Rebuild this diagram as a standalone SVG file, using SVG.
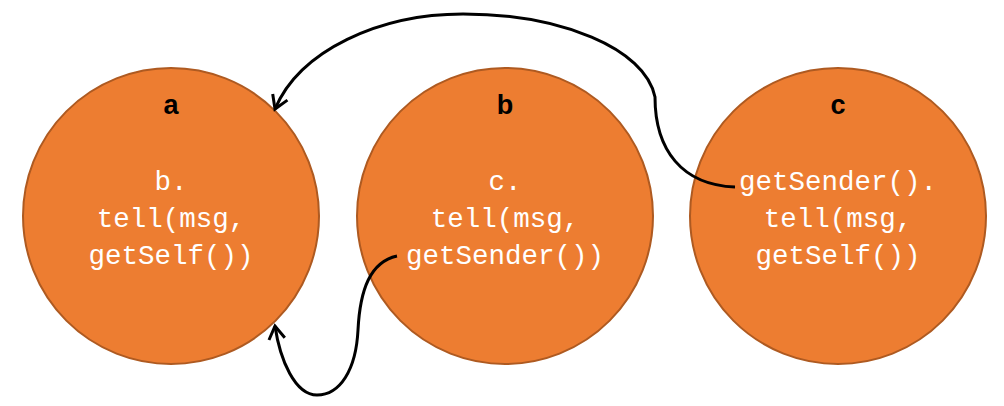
<svg xmlns="http://www.w3.org/2000/svg" width="1004" height="406" viewBox="0 0 1004 406">
<style>
.node circle{fill:#ED7D31;stroke:#AE5A21;stroke-width:2}
.lbl{font-family:"Liberation Sans",Arial,sans-serif;font-weight:bold;font-size:27px;fill:#000;text-anchor:middle}
.code{font-family:"Liberation Mono","DejaVu Sans Mono",monospace;font-size:27.5px;fill:#fff;text-anchor:middle}
.conn path{fill:none;stroke:#000;stroke-width:3}
</style>
<defs>
<marker id="arr" markerUnits="userSpaceOnUse" markerWidth="30" markerHeight="30" refX="0" refY="0" viewBox="-15 -15 30 30" orient="auto">
<path d="M-13,-8 L0,0 L-13,8" fill="none" stroke="#000" stroke-width="3"/>
</marker>
</defs>
<rect width="1004" height="406" fill="#fff"/>
<g id="node-a" class="node">
<circle cx="171" cy="216" r="148"/>
<text class="lbl" x="171" y="114">a</text>
<text class="code" x="171" y="190">b.</text>
<text class="code" x="171" y="227">tell(msg,</text>
<text class="code" x="171" y="264">getSelf())</text>
</g>
<g id="node-b" class="node">
<circle cx="505" cy="216" r="148"/>
<text class="lbl" x="505" y="114">b</text>
<text class="code" x="505" y="190">c.</text>
<text class="code" x="505" y="227">tell(msg,</text>
<text class="code" x="505" y="264">getSender())</text>
</g>
<g id="node-c" class="node">
<circle cx="838" cy="216" r="148"/>
<text class="lbl" x="838" y="114">c</text>
<text class="code" x="838" y="190">getSender().</text>
<text class="code" x="838" y="227">tell(msg,</text>
<text class="code" x="838" y="264">getSelf())</text>
</g>
<g id="connectors" class="conn">
<path d="M735,187 C682,185 655,150 655,97 C645,48 560,14 463,14 C380,14 300,50 275,109" marker-end="url(#arr)"/>
<path d="M397,256 C370,262 360,290 358,330 C356,370 340,395 317,395 C295,395 280,360 275,326" marker-end="url(#arr)"/>
</g>
</svg>
